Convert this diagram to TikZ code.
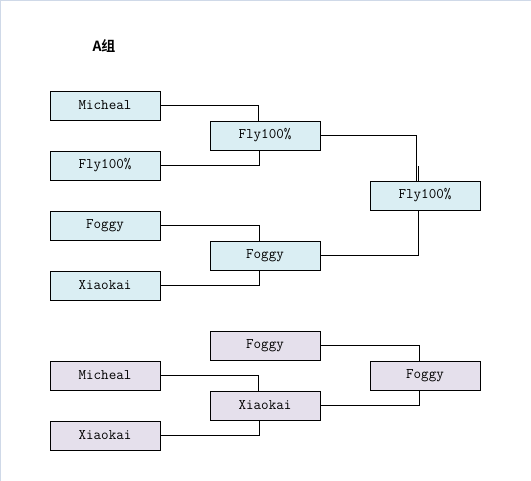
\documentclass[tikz,border=0pt]{standalone}
\usepackage{fontspec}
\newfontfamily\cjkbold[BoldFont={* Bold}]{Noto Sans CJK SC}
\usetikzlibrary{positioning}
\definecolor{teamblue}{HTML}{DAEEF3}
\definecolor{teamlilac}{HTML}{E5E0EC}
\definecolor{frameline}{HTML}{CFD9E8}

\begin{document}
\begin{tikzpicture}[x=0.75pt, y=-0.75pt, font=\ttfamily\fontsize{11}{12}\selectfont,
    player/.style={draw, line width=0.6pt, minimum width=82.5pt, minimum height=21.75pt, inner sep=0pt},
    link/.style={line width=0.6pt}]
  \useasboundingbox (0,0) rectangle (531,481);
  \draw[frameline, line width=1pt] (0.5,481) -- (0.5,0.5) -- (531,0.5);
  \node[font=\cjkbold\bfseries\fontsize{10.5}{12}\selectfont] (title) at (104,46) {A组};
  % group one, first round
  \node[player, fill=teamblue] (a1) at (105,105.5) {Micheal};
  \node[player, fill=teamblue] (a2) at (105,165.5) {Fly100\%};
  \node[player, fill=teamblue] (a3) at (105,225.5) {Foggy};
  \node[player, fill=teamblue] (a4) at (105,285.5) {Xiaokai};
  \node[player, fill=teamblue] (s1) at (265,135.5) {Fly100\%};
  \node[player, fill=teamblue] (s2) at (265,255.5) {Foggy};
  \node[player, fill=teamblue] (f1) at (425,195.5) {Fly100\%};
  \draw[link] (a1.east) -| ([xshift=-5.25pt]s1.north);
  \draw[link] (a2.east) -| ([xshift=-4.5pt]s1.south);
  \draw[link] (a3.east) -| ([xshift=-4.5pt]s2.north);
  \draw[link] (a4.east) -| ([xshift=-4.5pt]s2.south);
  \draw[link] (s1.east) -| ([xshift=-6.4pt]f1.north);
  \draw[link] ([xshift=-5.1pt]f1.north) -- ++(0,-15);
  \draw[link] (s2.east) -| ([xshift=-5.25pt]f1.south);
  % group one, second bracket
  \node[player, fill=teamlilac] (bq) at (265,345.5) {Foggy};
  \node[player, fill=teamlilac] (b1) at (105,375.5) {Micheal};
  \node[player, fill=teamlilac] (bs) at (265,405.5) {Xiaokai};
  \node[player, fill=teamlilac] (b2) at (105,435.5) {Xiaokai};
  \node[player, fill=teamlilac] (bf) at (425,375.5) {Foggy};
  \draw[link] (b1.east) -| ([xshift=-5.25pt]bs.north);
  \draw[link] (b2.east) -| ([xshift=-4.5pt]bs.south);
  \draw[link] (bq.east) -| ([xshift=-4.5pt]bf.north);
  \draw[link] (bs.east) -| ([xshift=-4.5pt]bf.south);
\end{tikzpicture}
\end{document}
